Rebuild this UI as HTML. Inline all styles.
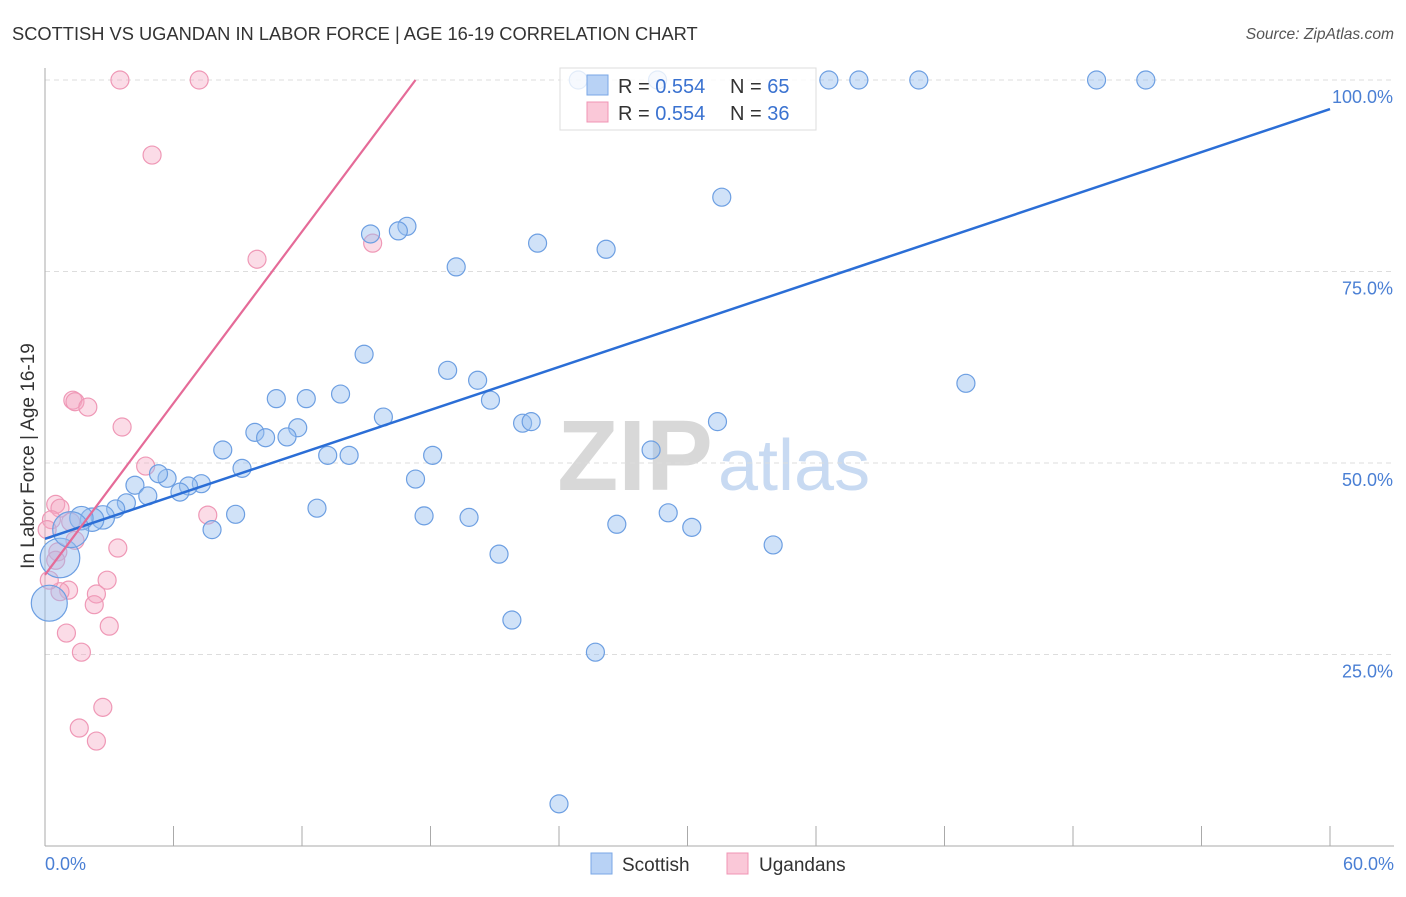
<!DOCTYPE html>
<html><head><meta charset="utf-8"><style>
body{margin:0;background:#fff;font-family:"Liberation Sans",sans-serif}
svg text{font-family:"Liberation Sans",sans-serif}
</style></head><body>
<svg id="c" width="1406" height="892" xmlns="http://www.w3.org/2000/svg">
<text x="12" y="40" font-size="18.3" fill="#333">SCOTTISH VS UGANDAN IN LABOR FORCE | AGE 16-19 CORRELATION CHART</text>
<text x="1394" y="39" font-size="15.6" fill="#555" font-style="italic" text-anchor="end">Source: ZipAtlas.com</text>
<text x="34" y="456" font-size="19" fill="#333" text-anchor="middle" transform="rotate(-90 34 456)">In Labor Force | Age 16-19</text>
<text x="635" y="490" font-size="100" fill="#d8d8d8" text-anchor="middle" font-family="Liberation Serif" font-weight="bold">ZIP</text>
<text x="718" y="490" font-size="72" fill="#c8daf2">atlas</text>
<g id="grid"></g><g id="axes"></g><g id="pts"></g><g id="lines"></g>
<g>
<rect x="560" y="68" width="256" height="62" fill="rgba(255,255,255,0.8)" stroke="#ddd"/>
<rect x="587" y="75" width="21" height="20" fill="#b8d2f5" stroke="#7aa7e6"/>
<rect x="587" y="102" width="21" height="20" fill="#fac8d8" stroke="#f094b4"/>
<text x="618" y="93" font-size="20" fill="#333">R = <tspan fill="#3a72d0">0.554</tspan></text>
<text x="730" y="93" font-size="20" fill="#333">N = <tspan fill="#3a72d0">65</tspan></text>
<text x="618" y="120" font-size="20" fill="#333">R = <tspan fill="#3a72d0">0.554</tspan></text>
<text x="730" y="120" font-size="20" fill="#333">N = <tspan fill="#3a72d0">36</tspan></text>
</g>
<g>
<rect x="591" y="853" width="21" height="21" fill="#b8d2f5" stroke="#7aa7e6"/>
<text x="622" y="871" font-size="19" fill="#333">Scottish</text>
<rect x="727" y="853" width="21" height="21" fill="#fac8d8" stroke="#f094b4"/>
<text x="759" y="871" font-size="19" fill="#333">Ugandans</text>
</g>
<text x="45" y="870" font-size="18" fill="#4a7fd4">0.0%</text>
<text x="1394" y="870" font-size="18" fill="#4a7fd4" text-anchor="end">60.0%</text>
</svg>
<script>
const yTicks=[25,50,75,100];
const yTickLabels=["25.0%","50.0%","75.0%","100.0%"];
const blueX=[24.9,28.6,36.6,38.0,40.8,49.1,51.4,31.6,16.9,16.5,15.2,23.0,26.2,19.2,14.9,18.8,20.2,43.0,10.8,12.2,13.8,20.8,15.8,22.3,22.7,31.4,11.8,9.8,10.3,11.3,8.3,28.3,13.2,14.2,18.1,9.2,5.7,5.3,7.3,6.7,17.3,4.2,4.8,6.3,3.8,3.3,2.7,2.2,1.7,8.9,12.7,17.7,19.8,29.1,26.7,30.2,7.8,34.0,21.2,0.7,0.2,1.2,21.8,25.7,24.0];
const blueY=[100,100,100,100,100,100,100,84.7,80.9,80.3,79.9,78.7,77.9,75.6,64.2,62.1,60.8,60.4,58.4,58.4,59.0,58.2,56.0,55.2,55.4,55.4,54.6,54.0,53.3,53.4,51.7,51.7,51.0,51.0,51.0,49.3,48.0,48.6,47.3,47.0,47.9,47.1,45.7,46.2,44.8,44.0,42.9,42.6,42.8,43.3,44.1,43.1,42.9,43.5,42.0,41.6,41.3,39.3,38.1,37.6,31.7,41.3,29.5,25.3,5.5];
const blueSize=[1,1,1,1,1,1,1,1,1,1,1,1,1,1,1,1,1,1,1,1,1,1,1,1,1,1,1,1,1,1,1,1,1,1,1,1,1,1,1,1,1,1,1,1,1,1,1.3,1.3,1.3,1,1,1,1,1,1,1,1,1,1,2.2,2,2,1,1,1];
const pinkX=[3.5,7.2,5.0,9.9,15.3,1.3,1.4,2.0,3.6,4.7,0.5,0.7,7.6,0.3,1.2,3.4,0.6,2.9,1.1,0.7,2.4,2.3,1.0,3.0,1.7,2.7,1.6,2.4,0.2,0.1,1.4,0.5];
const pinkY=[100,100,90.2,76.6,78.7,58.2,58.0,57.3,54.7,49.6,44.6,44.1,43.2,42.6,42.3,38.9,38.4,34.7,33.4,33.2,32.9,31.5,27.8,28.7,25.3,18.1,15.4,13.7,34.7,41.3,39.9,37.3];
const blueLine=[[0,40.1],[60,96.2]];
const pinkLine=[[0,35.4],[17.3,100]];
const X0=45,X1=1330,Y0=846,Y100=80;
const sx=v=>X0+(v/60)*(X1-X0);
const sy=v=>Y0-(v/100)*(Y0-Y100);
const NS="http://www.w3.org/2000/svg";
function mk(t,a,p){const e=document.createElementNS(NS,t);for(const k in a)e.setAttribute(k,a[k]);p.appendChild(e);return e;}
const grid=document.getElementById('grid'),axes=document.getElementById('axes'),pts=document.getElementById('pts'),lines=document.getElementById('lines');
yTicks.forEach((t,i)=>{
 const l=mk('line',{x1:X0,x2:1394,y1:sy(t),y2:sy(t),stroke:'#ddd','stroke-dasharray':'5,4'},grid);
 
 
 const tx=mk('text',{x:1393,y:sy(t)+23,'font-size':18,fill:'#4a7fd4','text-anchor':'end'},grid);
 tx.textContent=yTickLabels[i];
 
 
});
const ya=mk('line',{x1:X0,x2:X0,y1:68,y2:Y0,stroke:'#aaa'},axes);


const xa=mk('line',{x1:X0,x2:1394,y1:Y0,y2:Y0,stroke:'#aaa'},axes);


for(let i=0;i<=10;i++){const tk=mk('line',{x1:sx(i*6),x2:sx(i*6),y1:826,y2:Y0,stroke:'#aaa'},axes);
 
 }
pinkX.forEach((x,i)=>{const c=mk('circle',{cx:sx(x),cy:sy(pinkY[i]),r:9,fill:'rgba(246,168,194,0.4)',stroke:'#ef98b6','stroke-width':1.2},pts);
 
 });
blueX.forEach((x,i)=>{const c=mk('circle',{cx:sx(x),cy:sy(blueY[i]),r:9*blueSize[i],fill:'rgba(150,190,240,0.45)',stroke:'#6d9fe2','stroke-width':1.2},pts);
 
 });
const bl=mk('line',{x1:sx(blueLine[0][0]),y1:sy(blueLine[0][1]),x2:sx(blueLine[1][0]),y2:sy(blueLine[1][1]),stroke:'#2b6ed6','stroke-width':2.5},lines);


const pl=mk('line',{x1:sx(pinkLine[0][0]),y1:sy(pinkLine[0][1]),x2:sx(pinkLine[1][0]),y2:sy(pinkLine[1][1]),stroke:'#e56b98','stroke-width':2.2},lines);


</script>
</body></html>
